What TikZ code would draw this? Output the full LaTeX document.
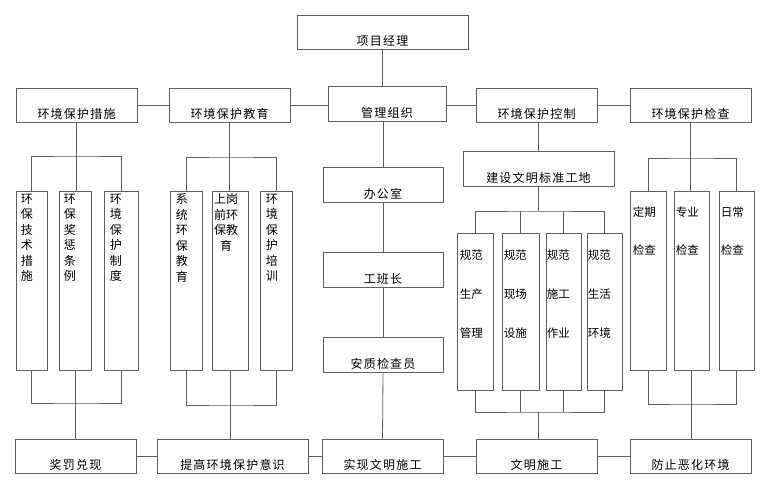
\documentclass[tikz,border=0pt]{standalone}
\usepackage{fontspec}
\setmainfont{Noto Sans CJK SC}
\newfontfamily\cjkls[LetterSpace=10]{Noto Sans CJK SC}
\definecolor{linec}{RGB}{95,95,95}
\begin{document}
\begin{tikzpicture}[x=1pt,y=-1pt,
  lc/.style={draw=linec, line width=0.8pt},
  bx/.style={draw=linec, line width=0.8pt, fill=white, inner sep=0pt},
  hl/.style={anchor=base, inner sep=0pt, font=\fontsize{12}{14}\cjkls},
  vt/.style={anchor=north west, inner sep=0pt, align=left, font=\fontsize{12}{15.5}\selectfont},
  wt/.style={anchor=north west, inner sep=0pt, align=left, font=\fontsize{11.5}{39}\selectfont},
  rt/.style={anchor=north west, inner sep=0pt, align=left, font=\fontsize{11.5}{38}\selectfont}
]
\useasboundingbox (0,0) rectangle (760,484);
% top
\node[bx, minimum width=171pt, minimum height=34pt] (pm) at (382.5,32) {};
% row 2
\node[bx, minimum width=121pt, minimum height=34pt] (cs) at (76.5,105) {};
\node[bx, minimum width=121pt, minimum height=34pt] (jy) at (229.5,105) {};
\node[bx, minimum width=118pt, minimum height=35pt] (gl) at (387,103.5) {};
\node[bx, minimum width=121pt, minimum height=34pt] (kz) at (536.5,105) {};
\node[bx, minimum width=121pt, minimum height=34pt] (jc) at (690.5,105) {};
% group 1
\node[bx, minimum width=31pt, minimum height=179pt] (a1) at (31.5,280.5) {};
\node[bx, minimum width=32pt, minimum height=179pt] (a2) at (75,280.5) {};
\node[bx, minimum width=34pt, minimum height=179pt] (a3) at (121,280.5) {};
% group 2
\node[bx, minimum width=32pt, minimum height=179pt] (b1) at (186,280.5) {};
\node[bx, minimum width=36pt, minimum height=179pt] (b2) at (230,280.5) {};
\node[bx, minimum width=32pt, minimum height=179pt] (b3) at (276,280.5) {};
% middle column
\node[bx, minimum width=120pt, minimum height=35pt] (o1) at (383,184.5) {};
\node[bx, minimum width=120pt, minimum height=35pt] (o2) at (383,269.5) {};
\node[bx, minimum width=120pt, minimum height=35pt] (o3) at (383,354.5) {};
% control group
\node[bx, minimum width=151pt, minimum height=35pt] (jd) at (538.5,168.5) {};
\node[bx, minimum width=36pt, minimum height=157pt] (c1) at (475,311.5) {};
\node[bx, minimum width=37pt, minimum height=157pt] (c2) at (520.5,311.5) {};
\node[bx, minimum width=35pt, minimum height=157pt] (c3) at (563.5,311.5) {};
\node[bx, minimum width=35pt, minimum height=157pt] (c4) at (604.5,311.5) {};
% check group
\node[bx, minimum width=36pt, minimum height=179pt] (d1) at (648,280.5) {};
\node[bx, minimum width=35pt, minimum height=179pt] (d2) at (691.5,280.5) {};
\node[bx, minimum width=35pt, minimum height=179pt] (d3) at (736.5,280.5) {};
% bottom row
\node[bx, minimum width=121pt, minimum height=34pt] (e1) at (75.5,456) {};
\node[bx, minimum width=151pt, minimum height=34pt] (e2) at (232.5,456) {};
\node[bx, minimum width=121pt, minimum height=34pt] (e3) at (382.5,456) {};
\node[bx, minimum width=121pt, minimum height=34pt] (e4) at (536.5,456) {};
\node[bx, minimum width=121pt, minimum height=34pt] (e5) at (690.5,456) {};

% horizontal labels
\node[hl] (pmt) at ([yshift=3.5pt]pm.south) {项目经理};
\node[hl] (cst) at ([yshift=3.5pt]cs.south) {环境保护措施};
\node[hl] (jyt) at ([yshift=3.5pt]jy.south) {环境保护教育};
\node[hl] (glt) at ([yshift=3.5pt]gl.south) {管理组织};
\node[hl] (kzt) at ([yshift=3.5pt]kz.south) {环境保护控制};
\node[hl] (jct) at ([yshift=3.5pt]jc.south) {环境保护检查};
\node[hl] (o1t) at ([yshift=3.5pt]o1.south) {办公室};
\node[hl] (o2t) at ([yshift=3.5pt]o2.south) {工班长};
\node[hl] (o3t) at ([yshift=3.5pt]o3.south) {安质检查员};
\node[hl] (jdt) at ([yshift=3.5pt]jd.south) {建设文明标准工地};
\node[hl] (e1t) at ([yshift=3.5pt]e1.south) {奖罚兑现};
\node[hl] (e2t) at ([yshift=3.5pt]e2.south) {提高环境保护意识};
\node[hl] (e3t) at ([yshift=3.5pt]e3.south) {实现文明施工};
\node[hl] (e4t) at ([yshift=3.5pt]e4.south) {文明施工};
\node[hl] (e5t) at ([yshift=3.5pt]e5.south) {防止恶化环境};

% vertical labels
\node[vt] (a1t) at ([xshift=5pt,yshift=-3pt]a1.north west) {环\\保\\技\\术\\措\\施};
\node[vt] (a2t) at ([xshift=5pt,yshift=-3pt]a2.north west) {环\\保\\奖\\惩\\条\\例};
\node[vt] (a3t) at ([xshift=6pt,yshift=-3pt]a3.north west) {环\\境\\保\\护\\制\\度};
\node[vt] (b1t) at ([xshift=6pt,yshift=-3pt]b1.north west) {系\\统\\环\\保\\教\\育};
\node[vt, anchor=north, align=center] (b2t) at ([xshift=-4pt,yshift=-3pt]b2.north) {上岗\\前环\\保教\\育};
\node[vt] (b3t) at ([xshift=6pt,yshift=-3pt]b3.north west) {环\\境\\保\\护\\培\\训};
\node[wt] (c1t) at ([xshift=3pt,yshift=-17pt]c1.north west) {规范\\生产\\管理};
\node[wt] (c2t) at ([xshift=2pt,yshift=-17pt]c2.north west) {规范\\现场\\设施};
\node[wt] (c3t) at ([xshift=1pt,yshift=-17pt]c3.north west) {规范\\施工\\作业};
\node[wt] (c4t) at ([xshift=1pt,yshift=-17pt]c4.north west) {规范\\生活\\环境};
\node[rt] (d1t) at ([xshift=3pt,yshift=-16pt]d1.north west) {定期\\检查};
\node[rt] (d2t) at ([xshift=2pt,yshift=-16pt]d2.north west) {专业\\检查};
\node[rt] (d3t) at ([xshift=2pt,yshift=-16pt]d3.north west) {日常\\检查};

% bus coordinates
\coordinate (t1) at (76,156);
\coordinate (u1) at (76,403);
\coordinate (t2) at (231,157);
\coordinate (u2) at (231,405);
\coordinate (t3) at (538.5,211);
\coordinate (u3) at (538,412);
\coordinate (t4) at (691,158);
\coordinate (u4) at (691,404);

% connectors
\draw[lc] (pm.south) -- (pm.south |- gl.north);
\draw[lc] (cs.east) -- (jy.west);
\draw[lc] (jy.east) -- (jy.east -| gl.west);
\draw[lc] (gl.east |- kz.west) -- (kz.west);
\draw[lc] (kz.east) -- (jc.west);
\draw[lc] (o1.north |- gl.south) -- (o1.north);
\draw[lc] (o1.south) -- (o2.north);
\draw[lc] (o2.south) -- (o3.north);
\draw[lc] (o3.south) -- (e3.north);
% group 1
\draw[lc] (cs.south) -- (cs.south |- a2.north);
\draw[lc] (a1.north) |- (t1) -| (a3.north);
\draw[lc] (a1.south) |- (u1) -| (a3.south);
\draw[lc] (a2.south) -- (a2.south |- e1.north);
% group 2
\draw[lc] (jy.south) -- (jy.south |- b2.north);
\draw[lc] (b1.north) |- (t2) -| (b3.north);
\draw[lc] (b1.south) |- (u2) -| (b3.south);
\draw[lc] (b2.south) -- (b2.south |- e2.north);
% control group
\draw[lc] (jd.north |- kz.south) -- (jd.north);
\draw[lc] (jd.south) -- (t3);
\draw[lc] (c1.north) |- (t3) -| (c4.north);
\draw[lc] (c2.north) -- (c2.north |- t3);
\draw[lc] (c3.north) -- (c3.north |- t3);
\draw[lc] (c1.south) |- (u3) -| (c4.south);
\draw[lc] (c2.south) -- (c2.south |- u3);
\draw[lc] (c3.south) -- (c3.south |- u3);
\draw[lc] (u3) -- (u3 |- e4.north);
% check group
\draw[lc] (jc.south) -- (jc.south |- d2.north);
\draw[lc] (d1.north) |- (t4) -| (d3.north);
\draw[lc] (d1.south) |- (u4) -| (d3.south);
\draw[lc] (d2.south) -- (d2.south |- e5.north);
% bottom row
\draw[lc] (e1.east) -- (e2.west);
\draw[lc] (e2.east) -- (e3.west);
\draw[lc] (e3.east) -- (e4.west);
\draw[lc] (e4.east) -- (e5.west);
\end{tikzpicture}
\end{document}
